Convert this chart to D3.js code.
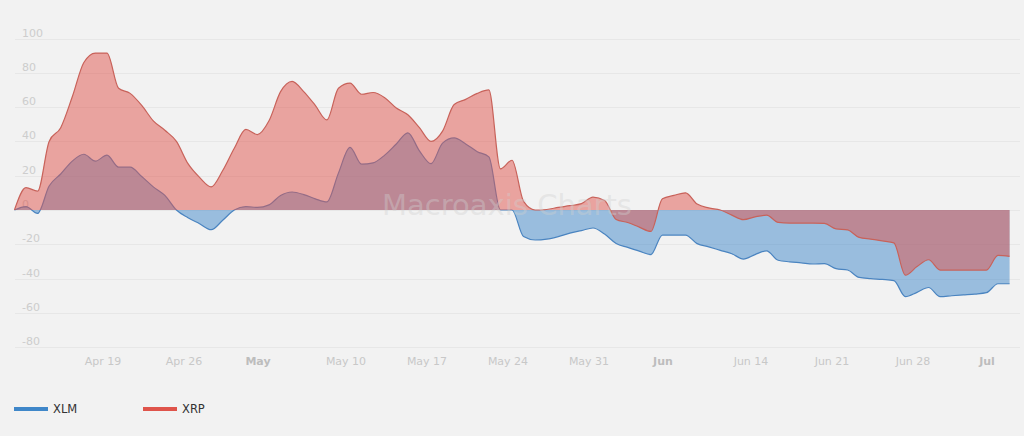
<!DOCTYPE html>
<html>
<head>
<meta charset="utf-8">
<script src="https://cdn.jsdelivr.net/npm/d3@7"></script>
<style>
html,body{margin:0;padding:0;background:#f2f2f2;}
svg{display:block;}
text{font-family:"DejaVu Sans",Verdana,sans-serif;}
</style>
</head>
<body>
<svg id="chart" width="1024" height="436"></svg>
<script>
// ---- data (daily points starting 2021-04-11) ----
const startDate = "2021-04-11T08:18:00Z";
const seriesNames = ["XLM", "XRP"];
const xlm = [0, 2, -2, 14, 21, 28.5, 32.5, 28.5, 32, 25, 25, 19.5, 13.5, 8.5, 0, -4.5, -8, -11.5, -6, 0,
  2, 1.5, 3, 8.5, 10.5, 9, 6.5, 4.7, 21.5, 36.5, 26.7, 27.5, 32, 38.5, 45, 34.5, 27, 39, 42, 38.5,
  34, 31, 0, 0, -15.5, -17.5, -17, -15.5, -13.5, -12, -10.5, -14, -19.5, -21.8, -24, -26, -14.6, -14.6, -14.6, -19.6,
  -21.5, -23.5, -25.5, -28.6, -26, -23.8, -29.3, -30.2, -30.8, -31.5, -31.3, -34.2, -35, -39.3, -40, -40.5, -41.2, -50.5, -48, -45.2,
  -50.5, -50, -49.5, -49, -48.2, -43, -43];
const xrp = [0, 13, 11, 40, 48, 66, 86, 91.5, 91.5, 71, 68, 61, 52, 46.5, 40, 27, 19, 13.5, 23, 36,
  47, 44, 52, 69, 75, 69, 61, 52.5, 71, 74, 67.5, 68.5, 65.5, 59.5, 55.5, 48, 40, 46, 61.5, 64.5,
  68, 70, 24, 29, 5, 0, 0.3, 1.5, 2.5, 3.7, 7.5, 5.5, -5.5, -7.3, -10, -12.5, 6.5, 8.5, 10, 3.5,
  1.2, 0, -3, -5.6, -4, -3, -7.2, -7.6, -7.6, -7.6, -7.8, -11, -11.6, -16, -17, -18, -19.2, -38, -33, -29,
  -35, -35, -35, -35, -35, -26.5, -27];
const yTicks = [100, 80, 60, 40, 20, 0, -20, -40, -60, -80];
const xTickDates = ["2021-04-19", "2021-04-26", "2021-05-03", "2021-05-10", "2021-05-17", "2021-05-24",
  "2021-05-31", "2021-06-07", "2021-06-14", "2021-06-21", "2021-06-28", "2021-07-05"];
const xTickLabels = ["Apr 19", "Apr 26", "May", "May 10", "May 17", "May 24", "May 31", "Jun", "Jun 14", "Jun 21", "Jun 28", "Jul"];
const xTickBold = [false, false, true, false, false, false, false, true, false, false, false, true];

// ---- styles ----
const colors = {XLM: "#3f87c9", XRP: "#df544b"};
const lineColors = {XLM: "#4a84c0", XRP: "#c8625a"};

const svg = d3.select("#chart");

const t0 = new Date(startDate);
const dates = xlm.map((_, i) => d3.utcDay.offset(t0, i));

const x = d3.scaleUtc()
  .domain([new Date("2021-04-19T00:00:00Z"), new Date("2021-06-28T00:00:00Z")])
  .range([103, 913]);
const y = d3.scaleLinear().domain([0, 100]).range([210, 38.5]);

const plotLeft = 15, plotRight = 1020;

const g = svg.append("g");
g.selectAll("line.grid").data(yTicks).enter().append("line")
  .attr("x1", plotLeft).attr("x2", plotRight)
  .attr("y1", d => Math.round(y(d)) + 0.5).attr("y2", d => Math.round(y(d)) + 0.5)
  .attr("stroke", "#e7e7e7").attr("stroke-width", 1);

// y labels
g.selectAll("text.ylab").data(yTicks).enter().append("text")
  .attr("x", 22).attr("y", d => y(d) - 2)
  .attr("font-size", 11).attr("fill", "#cdcdcd")
  .text(d => d);

// x labels
g.selectAll("text.xlab").data(xTickDates).enter().append("text")
  .attr("x", d => x(new Date(d + "T00:00:00Z")))
  .attr("dx", (d, i) => xTickBold[i] ? -7 : 0)
  .attr("y", 365)
  .attr("text-anchor", "middle")
  .attr("font-size", 11)
  .attr("fill", (d, i) => xTickBold[i] ? "#bdbdbd" : "#c8c8c8")
  .attr("font-weight", (d, i) => xTickBold[i] ? "bold" : "normal")
  .text((d, i) => xTickLabels[i]);

const area = d3.area().x((d, i) => x(dates[i])).y0(y(0)).y1(d => y(d)).curve(d3.curveMonotoneX);
const line = d3.line().x((d, i) => x(dates[i])).y(d => y(d)).curve(d3.curveMonotoneX);

const seriesData = {XLM: xlm, XRP: xrp};
seriesNames.forEach(name => {
  const data = seriesData[name];
  svg.append("path").datum(data).attr("d", area)
    .attr("fill", colors[name]).attr("fill-opacity", 0.5);
  svg.append("path").datum(data).attr("d", line)
    .attr("fill", "none").attr("stroke", lineColors[name]).attr("stroke-width", 1.2);
});

// watermark
svg.append("text").attr("x", 507).attr("y", 215).attr("text-anchor", "middle")
  .attr("font-family", "'Liberation Sans', Arial, sans-serif")
  .attr("font-size", 29).attr("fill", "#d0d0d0").attr("fill-opacity", 0.4)
  .text("Macroaxis Charts");

// legend
const legend = [{name: "XLM", x: 14}, {name: "XRP", x: 143}];
const lg = svg.append("g");
legend.forEach(l => {
  lg.append("line").attr("x1", l.x).attr("x2", l.x + 34).attr("y1", 409).attr("y2", 409)
    .attr("stroke", colors[l.name]).attr("stroke-width", 4);
  lg.append("text").attr("x", l.x + 39).attr("y", 413).attr("font-size", 11.5)
    .attr("fill", "#333").text(l.name);
});
</script>
</body>
</html>
